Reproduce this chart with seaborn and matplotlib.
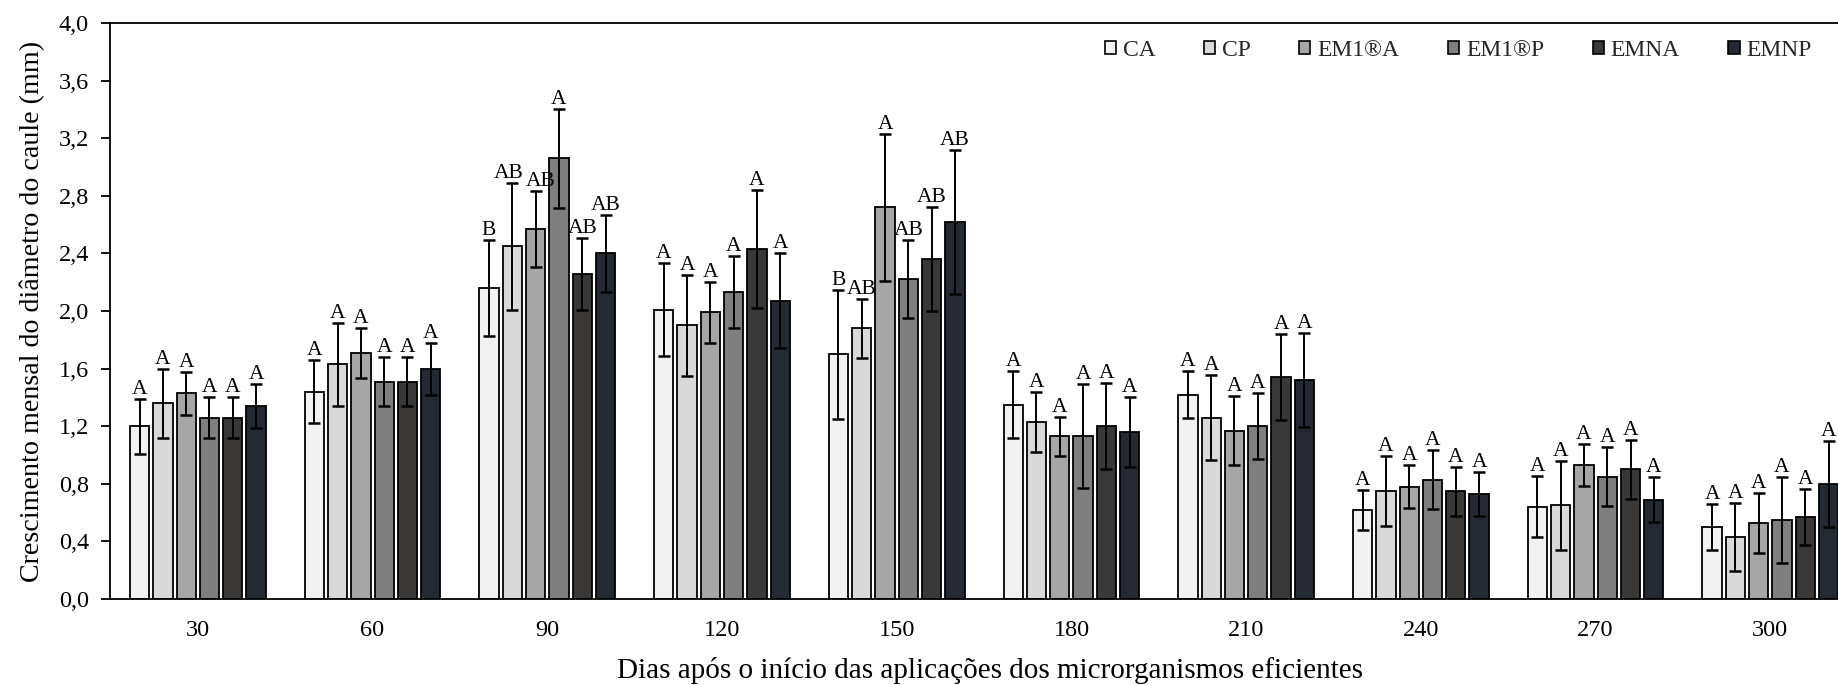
import numpy as np
import pandas as pd
import matplotlib
matplotlib.use('Agg')
import matplotlib.pyplot as plt
from matplotlib.patches import Patch
from matplotlib.ticker import FuncFormatter, MultipleLocator
import seaborn as sns

# ===============================
# Data
# ===============================
days = ['30', '60', '90', '120', '150', '180', '210', '240', '270', '300']
treatments = ['CA', 'CP', 'EM1®A', 'EM1®P', 'EMNA', 'EMNP']
colors = ['#f2f2f2', '#d9d9d9', '#a6a6a6', '#7f7f7f', '#3a3836', '#222935']

mean_ca = [1.20, 1.44, 2.16, 2.01, 1.70, 1.35, 1.42, 0.62, 0.64, 0.50]
mean_cp = [1.36, 1.63, 2.45, 1.90, 1.88, 1.23, 1.26, 0.75, 0.65, 0.43]
mean_em1a = [1.43, 1.71, 2.57, 1.99, 2.72, 1.13, 1.17, 0.78, 0.93, 0.53]
mean_em1p = [1.26, 1.51, 3.06, 2.13, 2.22, 1.13, 1.20, 0.83, 0.85, 0.55]
mean_emna = [1.26, 1.51, 2.26, 2.43, 2.36, 1.20, 1.54, 0.75, 0.90, 0.57]
mean_emnp = [1.34, 1.60, 2.40, 2.07, 2.62, 1.16, 1.52, 0.73, 0.69, 0.80]

err_ca = [0.19, 0.22, 0.335, 0.325, 0.447, 0.233, 0.165, 0.14, 0.212, 0.162]
err_cp = [0.24, 0.29, 0.44, 0.35, 0.205, 0.21, 0.295, 0.242, 0.307, 0.236]
err_em1a = [0.15, 0.175, 0.265, 0.21, 0.51, 0.137, 0.24, 0.148, 0.146, 0.207]
err_em1p = [0.14, 0.17, 0.345, 0.25, 0.27, 0.36, 0.228, 0.206, 0.206, 0.298]
err_emna = [0.14, 0.17, 0.25, 0.41, 0.36, 0.30, 0.30, 0.17, 0.207, 0.197]
err_emnp = [0.15, 0.18, 0.27, 0.33, 0.50, 0.24, 0.326, 0.153, 0.155, 0.299]

let_ca = ['A', 'A', 'B', 'A', 'B', 'A', 'A', 'A', 'A', 'A']
let_cp = ['A', 'A', 'AB', 'A', 'AB', 'A', 'A', 'A', 'A', 'A']
let_em1a = ['A', 'A', 'AB', 'A', 'A', 'A', 'A', 'A', 'A', 'A']
let_em1p = ['A', 'A', 'A', 'A', 'AB', 'A', 'A', 'A', 'A', 'A']
let_emna = ['A', 'A', 'AB', 'A', 'AB', 'A', 'A', 'A', 'A', 'A']
let_emnp = ['A', 'A', 'AB', 'A', 'AB', 'A', 'A', 'A', 'A', 'A']

means = [mean_ca, mean_cp, mean_em1a, mean_em1p, mean_emna, mean_emnp]
errs = [err_ca, err_cp, err_em1a, err_em1p, err_emna, err_emnp]
letters = [let_ca, let_cp, let_em1a, let_em1p, let_emna, let_emnp]

rows = []
for t, m, e, l in zip(treatments, means, errs, letters):
    for d, mv, ev, lv in zip(days, m, e, l):
        rows.append({'dia': d, 'trat': t, 'media': mv, 'erro': ev, 'letra': lv})
df = pd.DataFrame(rows)

# small sideways nudges (pixels) so crowded letters don't collide
nudge = {('90', 'CP'): -4, ('90', 'EM1®A'): 5}

# ===============================
# Style
# ===============================
sns.set_theme(style='white')
plt.rcParams['font.family'] = ['Liberation Serif', 'DejaVu Serif']

fig = plt.figure(figsize=(18.38, 6.85), dpi=100)
ax = fig.add_axes([0.0601, 0.1255, 0.9506, 0.8409])

palette = dict(zip(treatments, colors))
sns.barplot(data=df, x='dia', y='media', hue='trat', order=days, hue_order=treatments,
            palette=palette, errorbar=None, width=0.8, gap=0.17,
            edgecolor='black', linewidth=1.3, ax=ax, zorder=2)

# error bars + letters, placed on the bars seaborn drew
for cont, t in zip(ax.containers, treatments):
    sub = df[df['trat'] == t].set_index('dia')
    for patch in cont.patches:
        xc = patch.get_x() + patch.get_width() / 2
        d = days[int(round(xc))]
        m = sub.loc[d, 'media']
        e = sub.loc[d, 'erro']
        ax.errorbar(xc, m, yerr=e, fmt='none', ecolor='black', elinewidth=1.4,
                    capsize=4.3, capthick=1.8, zorder=3)
        ax.annotate(sub.loc[d, 'letra'], (xc, m + e), xytext=(nudge.get((d, t), 0), 5),
                    textcoords='offset pixels', ha='center', va='baseline',
                    fontsize=15.5, color='black')

ax.set_xlim(-0.5, 9.5)
ax.set_ylim(0, 4.0)
ax.yaxis.set_major_locator(MultipleLocator(0.4))
ax.yaxis.set_major_formatter(FuncFormatter(lambda v, p: f"{v:.1f}".replace('.', ',')))

for s in ['top', 'left', 'bottom']:
    ax.spines[s].set_color('black')
    ax.spines[s].set_linewidth(1.3)
ax.spines['right'].set_visible(False)

ax.tick_params(axis='y', which='major', left=True, length=6.5, width=1.3,
               direction='out', pad=9, labelsize=17.5, colors='black')
ax.tick_params(axis='x', which='major', bottom=False, length=0, pad=15,
               labelsize=17.5, colors='black')

ax.set_xlabel('Dias após o início das aplicações dos microrganismos eficientes',
              fontsize=21, color='black')
ax.xaxis.set_label_coords(0.5035, -0.1)
ax.xaxis.label.set_va('top')
ax.set_ylabel('Crescimento mensal do diâmetro do caule (mm)',
              fontsize=20.2, labelpad=10, color='black')

# legend
if ax.get_legend() is not None:
    ax.get_legend().remove()
handles = [Patch(facecolor=c, edgecolor='black', linewidth=1.2) for c in colors]
fig.legend(handles, treatments, loc='center right',
           bbox_to_anchor=(1812 / 1838, 1 - 50.5 / 685), bbox_transform=fig.transFigure,
           ncol=6, frameon=False, fontsize=17, handlelength=0.47, handleheight=0.47,
           handletextpad=0.3, columnspacing=2.05, borderpad=0, borderaxespad=0)

fig.savefig('out.png', dpi=100)
